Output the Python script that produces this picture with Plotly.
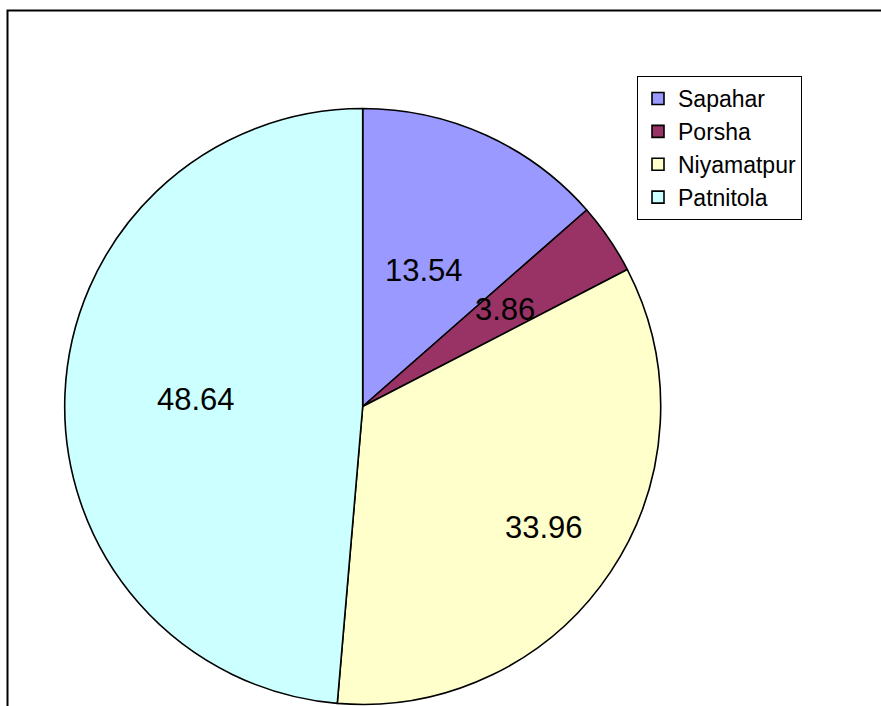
import math
import plotly.graph_objects as go

labels = ["Sapahar", "Porsha", "Niyamatpur", "Patnitola"]
values = [13.54, 3.86, 33.96, 48.64]
colors = ["#9999FF", "#993366", "#FFFFCC", "#CCFFFF"]

# radial placement (fraction of radius) of each value label
label_radius = [0.50, 0.58, 0.73, 0.56]

W, H = 881, 706
cx, cy, r = 362.7, 406.5, 298
FONT = "Liberation Sans, Arial, sans-serif"

fig = go.Figure(go.Pie(
    labels=labels,
    values=values,
    sort=False,
    direction="clockwise",
    rotation=0,
    marker=dict(colors=colors, line=dict(color="black", width=1.6)),
    textinfo="none",
    hoverinfo="label+value",
    domain=dict(x=[(cx - r) / W, (cx + r) / W], y=[(H - cy - r) / H, (H - cy + r) / H]),
))

total = sum(values)
annotations = []
cum = 0.0
for v, f in zip(values, label_radius):
    mid = (cum + v / 2) / total * 2 * math.pi
    cum += v
    px = cx + f * r * math.sin(mid)
    py = cy - f * r * math.cos(mid)
    annotations.append(dict(
        x=px / W, y=1 - py / H, xref="paper", yref="paper",
        text=f"{v:.2f}", showarrow=False,
        font=dict(family=FONT, size=31, color="black"),
        xanchor="center", yanchor="middle",
    ))

fig.update_layout(
    width=W, height=H,
    margin=dict(l=0, r=0, t=0, b=0),
    paper_bgcolor="white",
    font=dict(family=FONT, color="black"),
    showlegend=True,
    legend=dict(
        x=637 / W, y=1 - 76 / H, xanchor="left", yanchor="top",
        bgcolor="white", bordercolor="black", borderwidth=1,
        font=dict(family=FONT, size=23, color="black"),
        traceorder="normal",
    ),
    annotations=annotations,
    shapes=[dict(
        type="path", xref="paper", yref="paper",
        path=f"M {7.5 / W} 0 L {7.5 / W} {1 - 10.5 / H} L 1 {1 - 10.5 / H}",
        line=dict(color="black", width=2),
    )],
)

fig.write_html("out.html", config={"displayModeBar": False},
               post_script="document.body.style.margin='0';")
